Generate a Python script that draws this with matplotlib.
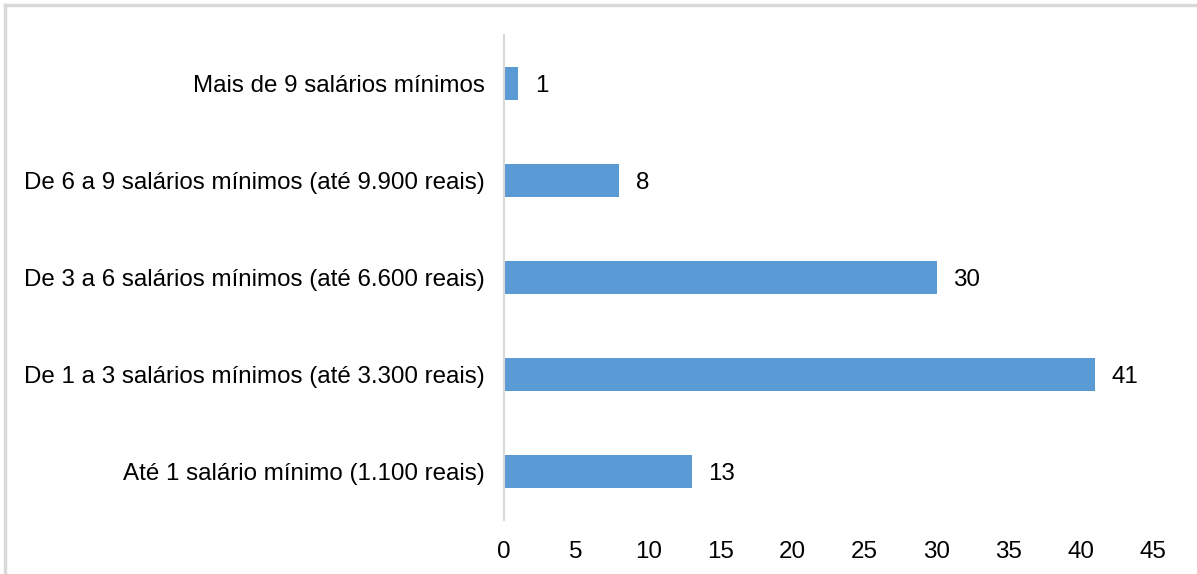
import matplotlib.pyplot as plt
from matplotlib.lines import Line2D

plt.rcParams['font.family'] = ['Liberation Sans', 'DejaVu Sans']

categorias = [
    'Até 1 salário mínimo (1.100 reais)',
    'De 1 a 3 salários mínimos (até 3.300 reais)',
    'De 3 a 6 salários mínimos (até 6.600 reais)',
    'De 6 a 9 salários mínimos (até 9.900 reais)',
    'Mais de 9 salários mínimos',
]
valores = [13, 41, 30, 8, 1]

fs = 17.4

fig = plt.figure(figsize=(11.97, 5.74), dpi=100)
ax = fig.add_axes([0.4211, 0.0941, 0.5421, 0.8449])

pos = range(len(categorias))
barras = ax.barh(pos, valores, height=0.35, color='#5b9bd5')
rotulos = ax.bar_label(barras, labels=[str(v) for v in valores], padding=12, fontsize=fs)
for r in rotulos:
    r.set_va('center_baseline')

ax.set_yticks(list(pos))
ax.set_yticklabels(categorias, fontsize=fs)
ax.set_ylim(-0.5, 4.5)
ax.set_xlim(0, 45)
ax.set_xticks(range(0, 50, 5))
ax.tick_params(axis='x', labelsize=fs, length=0, pad=15)
ax.tick_params(axis='y', length=0, pad=14)

for s in ['top', 'right', 'bottom']:
    ax.spines[s].set_visible(False)
ax.spines['left'].set_color('#d9d9d9')
ax.spines['left'].set_linewidth(1.5)

# moldura cinza clara do gráfico
x0, y0 = 5 / 1197, 1 - 5 / 574
fig.add_artist(Line2D([x0, x0], [0, y0], transform=fig.transFigure, color='#d9d9d9', lw=2.5))
fig.add_artist(Line2D([x0, 1], [y0, y0], transform=fig.transFigure, color='#d9d9d9', lw=2.5))

fig.savefig('out.png', dpi=100)
